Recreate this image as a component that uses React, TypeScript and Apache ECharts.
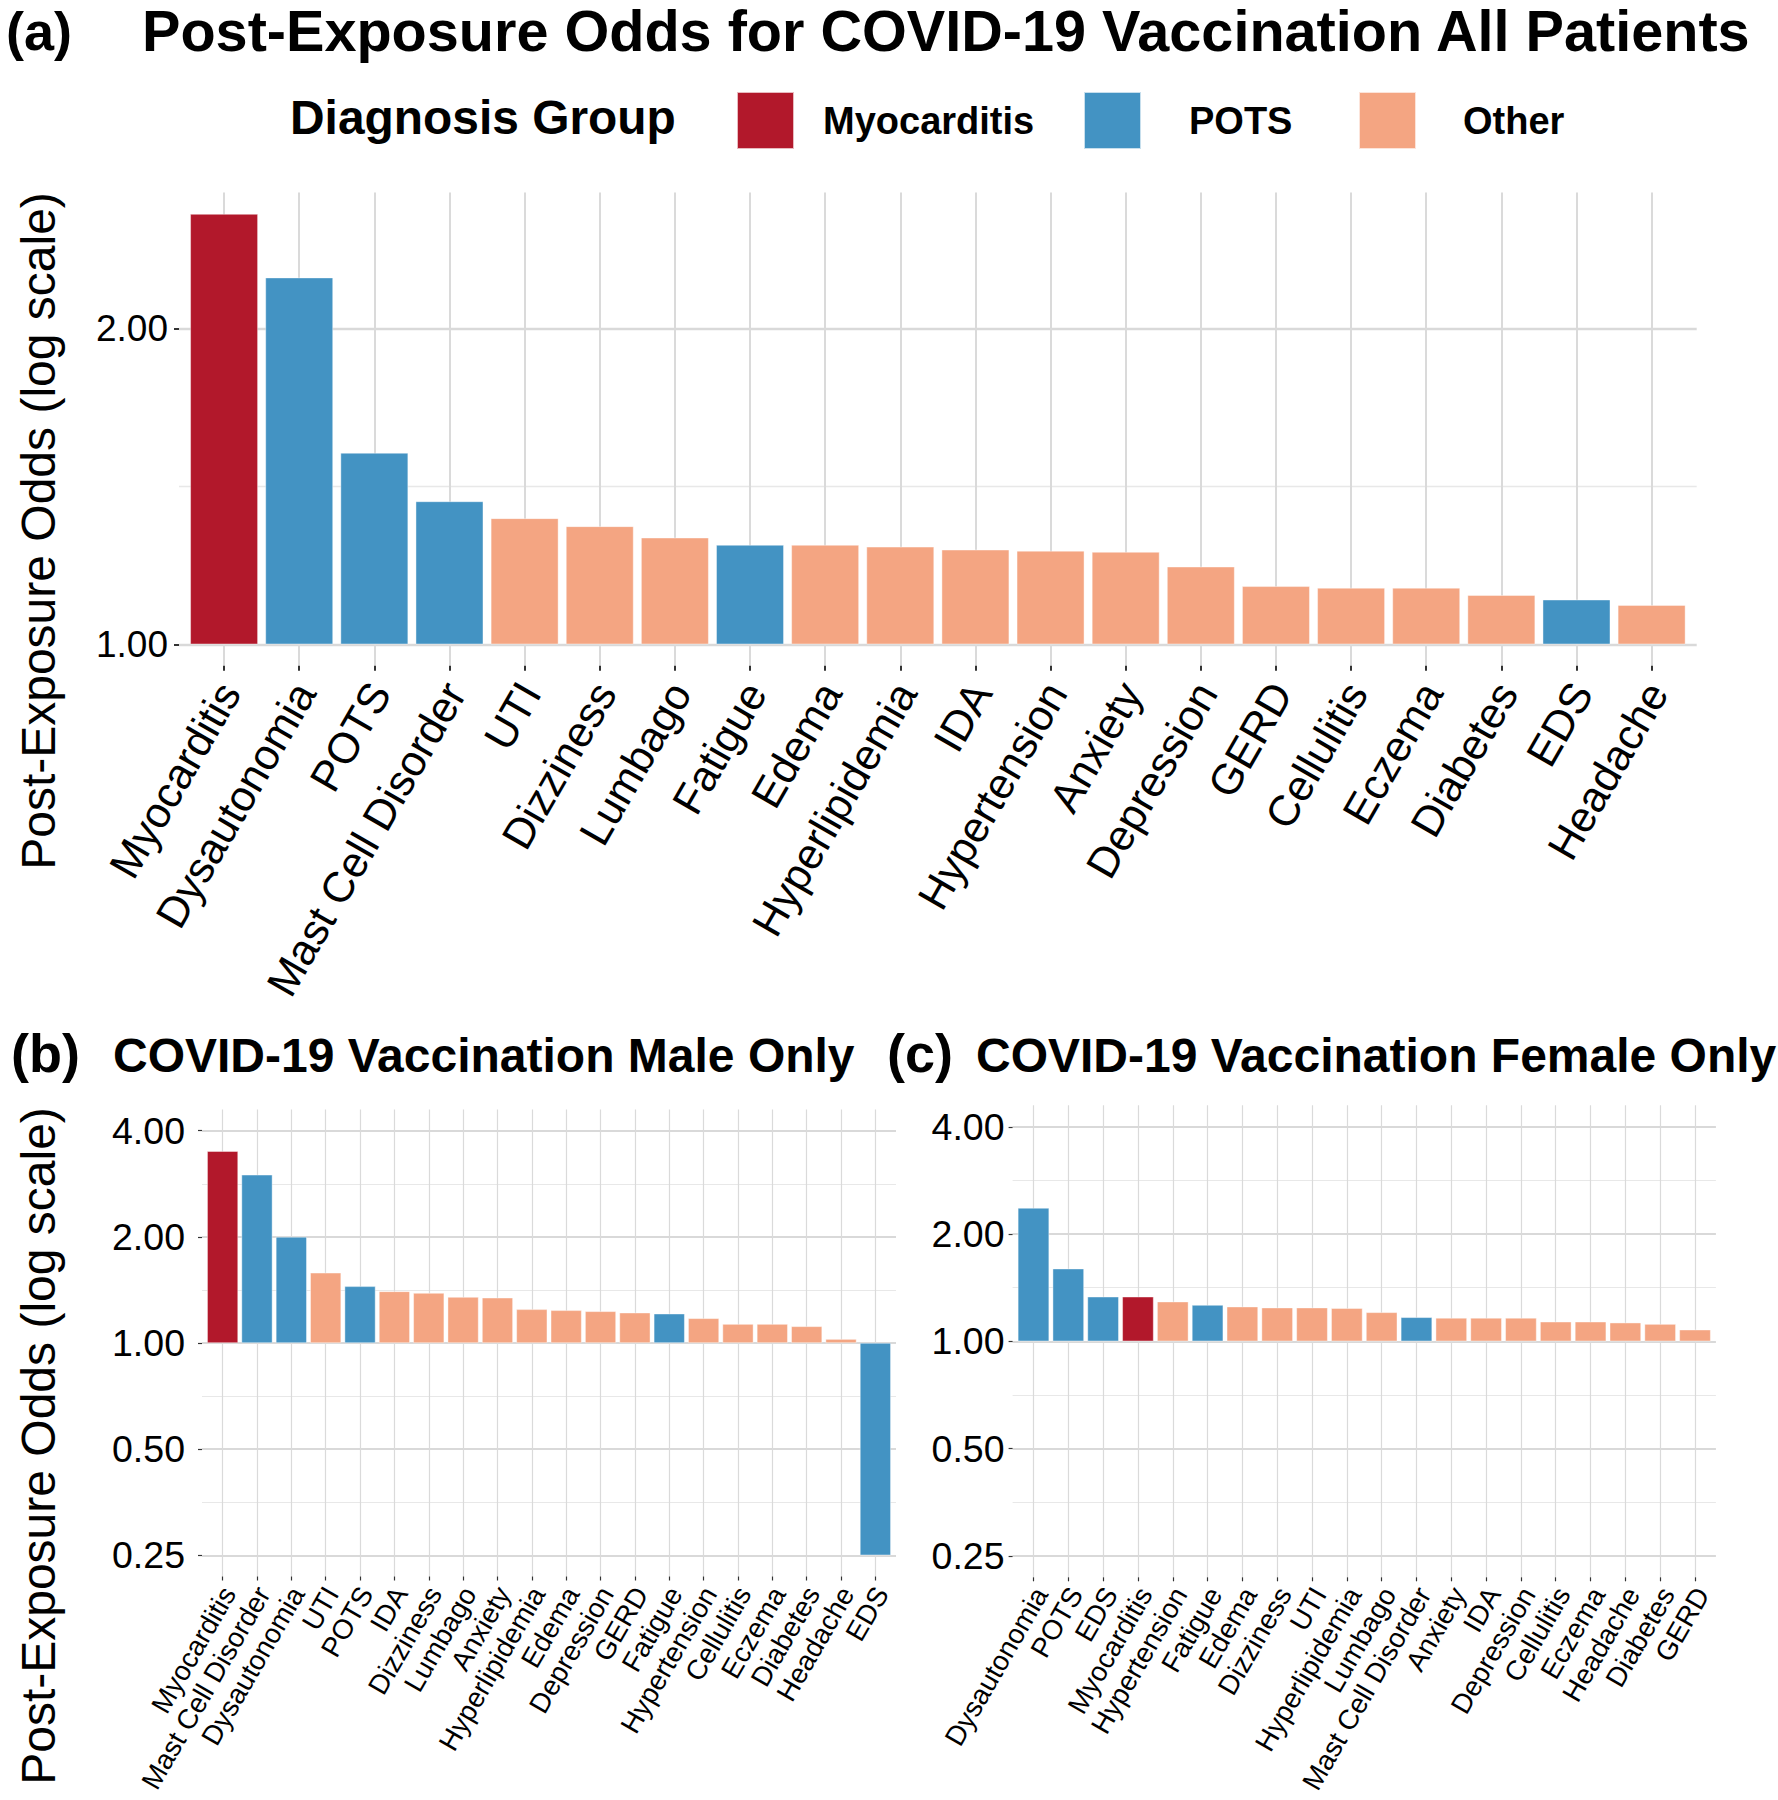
import React, { useEffect, useRef } from "react";
import * as echarts from "echarts";

const FONT = '"Liberation Sans", Arial, Helvetica, sans-serif';

// Diagnosis groups and colours
const GROUPS = ["Myocarditis", "POTS", "Other"];
const GROUP_COLORS = ["#B2182B", "#4393C3", "#F4A582"];
const MYO_GROUP = ["Myocarditis"];
const POTS_GROUP = ["Dysautonomia", "POTS", "Mast Cell Disorder", "Fatigue", "EDS"];

// (a) All patients
const ALL_CATEGORIES = [
  "Myocarditis", "Dysautonomia", "POTS", "Mast Cell Disorder", "UTI", "Dizziness",
  "Lumbago", "Fatigue", "Edema", "Hyperlipidemia", "IDA", "Hypertension", "Anxiety",
  "Depression", "GERD", "Cellulitis", "Eczema", "Diabetes", "EDS", "Headache",
];
const ALL_ODDS = [
  2.575, 2.239, 1.523, 1.369, 1.319, 1.296, 1.264, 1.244, 1.244, 1.239, 1.231, 1.228,
  1.225, 1.186, 1.136, 1.132, 1.132, 1.114, 1.103, 1.09,
];
const ALL_Y_BREAKS = [1, 2];

// (b) Male only
const MALE_CATEGORIES = [
  "Myocarditis", "Mast Cell Disorder", "Dysautonomia", "UTI", "POTS", "IDA", "Dizziness",
  "Lumbago", "Anxiety", "Hyperlipidemia", "Edema", "Depression", "GERD", "Fatigue",
  "Hypertension", "Cellulitis", "Eczema", "Diabetes", "Headache", "EDS",
];
const MALE_ODDS = [
  3.5, 3.0, 2.0, 1.582, 1.448, 1.401, 1.386, 1.35, 1.344, 1.246, 1.238, 1.23, 1.219,
  1.211, 1.175, 1.132, 1.132, 1.115, 1.026, 0.25,
];

// (c) Female only
const FEMALE_CATEGORIES = [
  "Dysautonomia", "POTS", "EDS", "Myocarditis", "Hypertension", "Fatigue", "Edema",
  "Dizziness", "UTI", "Hyperlipidemia", "Lumbago", "Mast Cell Disorder", "Anxiety", "IDA",
  "Depression", "Cellulitis", "Eczema", "Headache", "Diabetes", "GERD",
];
const FEMALE_ODDS = [
  2.367, 1.599, 1.334, 1.334, 1.292, 1.264, 1.251, 1.243, 1.243, 1.238, 1.206, 1.168,
  1.163, 1.163, 1.163, 1.135, 1.135, 1.128, 1.118, 1.078,
];
const SEX_Y_BREAKS = [0.25, 0.5, 1, 2, 4];
const SEX_Y_LIMITS = [0.25, 4];

function groupOf(c: string): string {
  if (MYO_GROUP.includes(c)) return "Myocarditis";
  if (POTS_GROUP.includes(c)) return "POTS";
  return "Other";
}

// ggplot-like 5% multiplicative expansion on a log2 scale
function logRange(lo: number, hi: number): [number, number] {
  const a = Math.log2(lo);
  const b = Math.log2(hi);
  const pad = 0.05 * (b - a);
  return [Math.pow(2, a - pad), Math.pow(2, b + pad)];
}

function minorBreaks(breaks: number[]): number[] {
  const out: number[] = [];
  for (let i = 0; i < breaks.length - 1; i++) out.push(Math.sqrt(breaks[i] * breaks[i + 1]));
  return out;
}

type Panel = {
  cats: string[];
  vals: number[];
  breaks: number[];
  range: [number, number];
  grid: { left: number; top: number; width: number; height: number };
  xFont: number;
  xLineHeight: number;
  yFont: number;
  xMargin: number;
  yMargin: number;
  tickLen: number;
  tickW: number;
  vLineW: number;
  majorW: number;
  minorW: number;
};

const PANELS: Panel[] = [
  {
    cats: ALL_CATEGORIES,
    vals: ALL_ODDS,
    breaks: ALL_Y_BREAKS,
    range: logRange(Math.min(1, ...ALL_ODDS), Math.max(1, ...ALL_ODDS)),
    grid: { left: 179, top: 192.5, width: 1517.7, height: 473.3 },
    xFont: 43,
    xLineHeight: 12,
    yFont: 37,
    xMargin: 17,
    yMargin: 11,
    tickLen: 5,
    tickW: 2,
    vLineW: 2,
    majorW: 2.4,
    minorW: 1.4,
  },
  {
    cats: MALE_CATEGORIES,
    vals: MALE_ODDS,
    breaks: SEX_Y_BREAKS,
    range: logRange(SEX_Y_LIMITS[0], SEX_Y_LIMITS[1]),
    grid: { left: 202, top: 1109.5, width: 694, height: 467 },
    xFont: 27.8,
    xLineHeight: 14,
    yFont: 37.5,
    xMargin: 9,
    yMargin: 17,
    tickLen: 4,
    tickW: 1.2,
    vLineW: 1.2,
    majorW: 1.8,
    minorW: 1.1,
  },
  {
    cats: FEMALE_CATEGORIES,
    vals: FEMALE_ODDS,
    breaks: SEX_Y_BREAKS,
    range: logRange(SEX_Y_LIMITS[0], SEX_Y_LIMITS[1]),
    grid: { left: 1012.6, top: 1105.3, width: 703.3, height: 472 },
    xFont: 27.8,
    xLineHeight: 17,
    yFont: 37.5,
    xMargin: 8,
    yMargin: 8,
    tickLen: 4,
    tickW: 1.2,
    vLineW: 1.2,
    majorW: 1.8,
    minorW: 1.1,
  },
];

function textAt(text: string, x: number, baseline: number, size: number, bold: boolean) {
  return {
    type: "text",
    x,
    y: baseline - 0.3465 * size,
    silent: true,
    style: {
      text,
      fontSize: size,
      fontWeight: bold ? "bold" : "normal",
      fontFamily: FONT,
      fill: "#000",
      align: "left",
      verticalAlign: "middle",
    },
  };
}

function yTitle(text: string, baselineX: number, centerY: number, size: number) {
  return {
    type: "text",
    x: baselineX - 0.3465 * size,
    y: centerY,
    rotation: Math.PI / 2,
    silent: true,
    style: {
      text,
      fontSize: size,
      fontFamily: FONT,
      fill: "#000",
      align: "center",
      verticalAlign: "middle",
    },
  };
}

function buildOption() {
  const grids: any[] = [];
  const xAxes: any[] = [];
  const yAxes: any[] = [];
  const series: any[] = [];

  PANELS.forEach((p, pi) => {
    grids.push({ ...p.grid, containLabel: false, outerBoundsMode: "none" });
    const positions = p.cats.map((_, i) => i + 1);
    xAxes.push({
      type: "value",
      gridIndex: pi,
      min: 0.4,
      max: p.cats.length + 0.6,
      axisLine: { show: false },
      axisTick: {
        show: true,
        customValues: positions,
        length: p.tickLen,
        lineStyle: { color: "#333", width: p.tickW },
      },
      axisLabel: {
        customValues: positions,
        rotate: 60,
        align: "right",
        verticalAlign: "top",
        lineHeight: p.xLineHeight,
        margin: p.xMargin,
        fontSize: p.xFont,
        fontFamily: FONT,
        color: "#000",
        showMinLabel: true,
        showMaxLabel: true,
        hideOverlap: false,
        formatter: (v: number) => p.cats[Math.round(v) - 1] ?? "",
      },
      splitLine: { show: true, lineStyle: { color: "#DADADA", width: p.vLineW } },
    });
    // major y axis (labels, ticks, major grid)
    yAxes.push({
      type: "log",
      logBase: 2,
      gridIndex: pi,
      min: p.range[0],
      max: p.range[1],
      position: "left",
      axisLine: { show: false },
      axisTick: {
        show: true,
        customValues: p.breaks,
        length: p.tickLen,
        lineStyle: { color: "#333", width: p.tickW },
      },
      axisLabel: {
        customValues: p.breaks,
        margin: p.yMargin,
        fontSize: p.yFont,
        fontFamily: FONT,
        color: "#000",
        showMinLabel: true,
        showMaxLabel: true,
        formatter: (v: number) => v.toFixed(2),
      },
      splitLine: { show: true, lineStyle: { color: "#D9D9D9", width: p.majorW } },
    });
    // minor y grid lines
    yAxes.push({
      type: "log",
      logBase: 2,
      gridIndex: pi,
      min: p.range[0],
      max: p.range[1],
      position: "left",
      axisLine: { show: false },
      axisTick: { show: false, customValues: minorBreaks(p.breaks) },
      axisLabel: { show: false, customValues: minorBreaks(p.breaks) },
      splitLine: { show: true, lineStyle: { color: "#E8E8E8", width: p.minorW } },
    });

    GROUPS.forEach((g, gi) => {
      const data: number[][] = [];
      p.cats.forEach((c, i) => {
        if (groupOf(c) === g) data.push([i + 1, p.vals[i]]);
      });
      series.push({
        type: "bar",
        name: g,
        xAxisIndex: pi,
        yAxisIndex: pi * 2,
        data,
        barWidth: "90%",
        barGap: "-100%",
        itemStyle: { color: GROUP_COLORS[gi], borderColor: "rgba(255,255,255,0.7)", borderWidth: 0.6 },
        emphasis: { disabled: true },
      });
    });
  });

  const legendLefts = [736, 1083, 1358];
  const legendPads = [24, 43, 42];
  const legends = GROUPS.map((g, gi) => ({
    data: [{ name: g, icon: "rect" }],
    left: legendLefts[gi],
    top: 91,
    padding: 0,
    itemWidth: 57,
    itemHeight: 57,
    selectedMode: false,
    textStyle: {
      fontSize: 38,
      fontWeight: "bold",
      fontFamily: FONT,
      color: "#000",
      padding: [0, 0, 0, legendPads[gi]],
    },
  }));

  return {
    animation: false,
    backgroundColor: "#fff",
    textStyle: { fontFamily: FONT },
    grid: grids,
    xAxis: xAxes,
    yAxis: yAxes,
    series,
    legend: legends,
    graphic: [
      textAt("(a)", 6, 50, 54, true),
      textAt("Post-Exposure Odds for COVID-19 Vaccination All Patients", 142, 51, 57.6, true),
      textAt("Diagnosis Group", 290, 134, 47.9, true),
      textAt("(b)", 11, 1071.7, 54, true),
      textAt("COVID-19 Vaccination Male Only", 113, 1071.7, 48, true),
      textAt("(c)", 887, 1071.7, 54, true),
      textAt("COVID-19 Vaccination Female Only", 976, 1071.7, 48, true),
      yTitle("Post-Exposure Odds (log scale)", 55, 531, 48),
      yTitle("Post-Exposure Odds (log scale)", 55, 1446, 48),
    ],
  };
}

export default function App() {
  const ref = useRef<HTMLDivElement>(null);
  useEffect(() => {
    if (!ref.current) return;
    const chart = echarts.init(ref.current, undefined, { renderer: "svg" });
    chart.setOption(buildOption() as any);
    return () => chart.dispose();
  }, []);
  return (
    <div
      ref={ref}
      style={{ position: "absolute", left: 0, top: 0, width: 1778, height: 1800, background: "#fff" }}
    />
  );
}
